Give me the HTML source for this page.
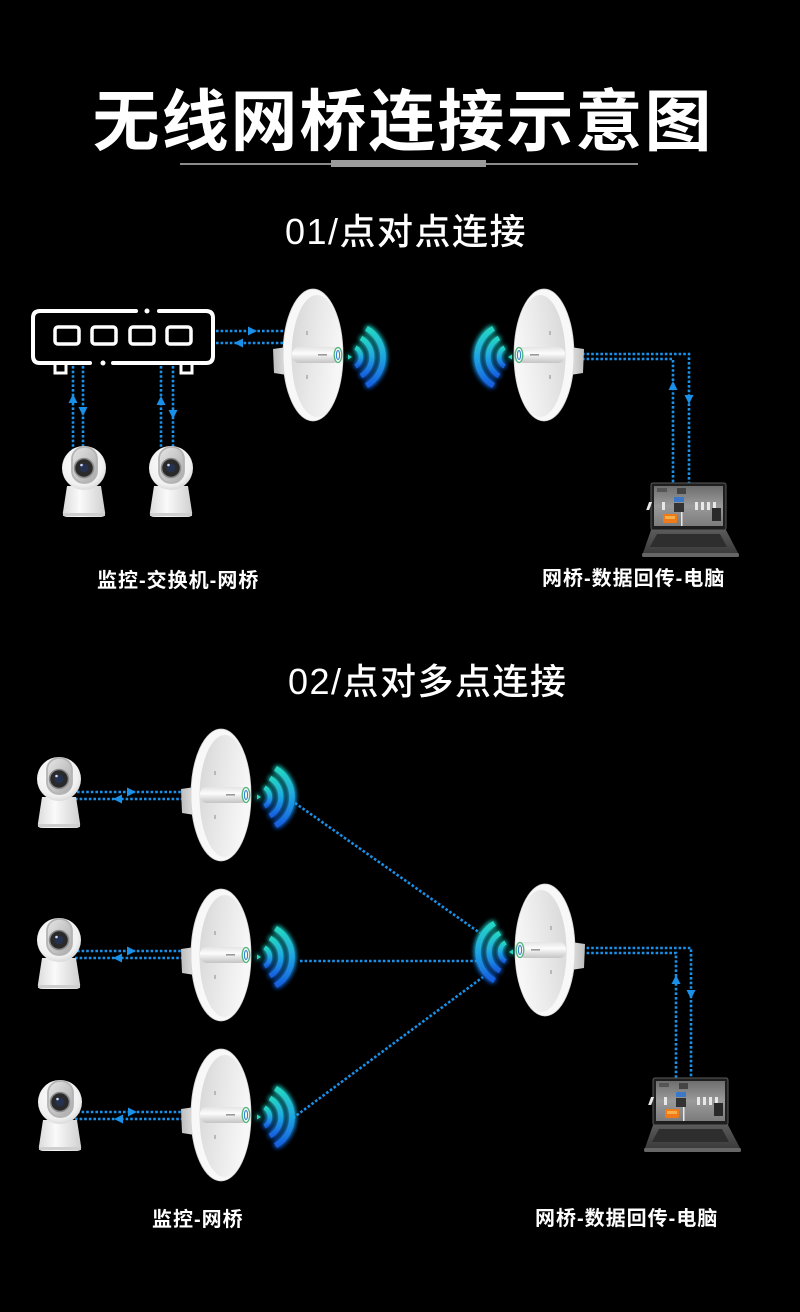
<!DOCTYPE html>
<html><head><meta charset="utf-8"><style>
html,body{margin:0;padding:0;background:#000;}
svg{display:block;}
.t{font-family:"Liberation Sans","Noto Sans CJK SC",sans-serif;fill:#fff;}
</style></head><body>
<svg width="800" height="1312" viewBox="0 0 800 1312" xmlns="http://www.w3.org/2000/svg">
<defs>
  <linearGradient id="wg" x1="0" y1="0" x2="0" y2="1">
    <stop offset="0" stop-color="#25d6c4"/>
    <stop offset="0.5" stop-color="#1fa6e2"/>
    <stop offset="1" stop-color="#175fe0"/>
  </linearGradient>
  <filter id="glow" x="-50%" y="-50%" width="200%" height="200%">
    <feGaussianBlur stdDeviation="2.6" result="b"/>
    <feMerge><feMergeNode in="b"/><feMergeNode in="b"/><feMergeNode in="SourceGraphic"/></feMerge>
  </filter>
  <linearGradient id="brk" x1="0" y1="0" x2="1" y2="0">
    <stop offset="0" stop-color="#bdbdbd"/><stop offset="1" stop-color="#e2e2e2"/>
  </linearGradient>
  <linearGradient id="dish" x1="0" y1="0" x2="1" y2="0.3">
    <stop offset="0" stop-color="#d6d6d6"/><stop offset="0.55" stop-color="#e9e9e9"/><stop offset="1" stop-color="#f7f7f7"/>
  </linearGradient>
  <linearGradient id="cyl" x1="0" y1="0" x2="0" y2="1">
    <stop offset="0" stop-color="#e4e4e4"/><stop offset="0.4" stop-color="#fcfcfc"/><stop offset="1" stop-color="#c4c4c4"/>
  </linearGradient>
  <radialGradient id="head" cx="0.45" cy="0.4" r="0.65">
    <stop offset="0" stop-color="#ffffff"/><stop offset="0.75" stop-color="#f0f0f0"/><stop offset="1" stop-color="#d2d2d2"/>
  </radialGradient>
  <linearGradient id="base" x1="0" y1="0" x2="1" y2="0">
    <stop offset="0" stop-color="#dcdcdc"/><stop offset="0.4" stop-color="#fafafa"/><stop offset="1" stop-color="#d0d0d0"/>
  </linearGradient>
  <linearGradient id="face" x1="0" y1="0" x2="1" y2="1">
    <stop offset="0" stop-color="#e6e6e6"/><stop offset="1" stop-color="#a8a8a8"/>
  </linearGradient>
  <linearGradient id="lapb" x1="0" y1="0" x2="0" y2="1">
    <stop offset="0" stop-color="#5a5a5a"/><stop offset="1" stop-color="#3c3c3c"/>
  </linearGradient>
  <linearGradient id="scr" x1="0" y1="0" x2="0" y2="1">
    <stop offset="0" stop-color="#6e6e6e"/><stop offset="0.5" stop-color="#9a9a9a"/><stop offset="1" stop-color="#7c7c7c"/>
  </linearGradient>

  <g id="bridge">
    <path d="M-41,-6 L-27,-8 L-27,20 L-40,18 Z" fill="url(#brk)"/>
    <ellipse cx="-1" cy="0" rx="30" ry="66" fill="#f8f8f8" stroke="#d4d4d4" stroke-width="0.8"/>
    <ellipse cx="3" cy="1" rx="25.5" ry="61" fill="url(#dish)"/>
    <rect x="-8" y="-24" width="2" height="4" fill="#b8b8b8"/>
    <rect x="-8" y="20" width="2" height="4" fill="#b8b8b8"/>
    <rect x="-22" y="-8" width="48" height="16" rx="7" fill="url(#cyl)"/>
    <rect x="4" y="-1" width="9" height="1.6" fill="#9a9a9a"/>
    <ellipse cx="24" cy="0" rx="3.8" ry="7.5" fill="#f4f4f4" stroke="#4fb37a" stroke-width="1.3"/>
    <ellipse cx="24" cy="0" rx="1.6" ry="4.5" fill="none" stroke="#2a7fd4" stroke-width="1"/>
  </g>

  <g id="waves" filter="url(#glow)">
    <path d="M5.5,-9.5 A11,11 0 0 1 5.5,9.5" fill="none" stroke="url(#wg)" stroke-width="4.5"/>
    <path d="M11,-19 A22,22 0 0 1 11,19" fill="none" stroke="url(#wg)" stroke-width="5"/>
    <path d="M16.5,-28.6 A33,33 0 0 1 16.5,28.6" fill="none" stroke="url(#wg)" stroke-width="5.5"/>
    <path d="M-2,-2.5 L2,0 L-2,2.5 Z" fill="#25d6c4"/>
  </g>

  <g id="cam">
    <path d="M-17,18 L17,18 L21,44 Q22,49 17,49 L-17,49 Q-22,49 -21,44 Z" fill="url(#base)"/>
    <rect x="-21" y="45" width="42" height="3" fill="#cfcfcf"/>
    <circle cx="0" cy="0" r="22" fill="url(#head)"/>
    <rect x="-12" y="-21" width="25" height="36" rx="12" fill="url(#face)" stroke="#b4b4b4" stroke-width="1.8"/>
    <circle cx="0" cy="0" r="9.5" fill="#2a2a2a" stroke="#8a8a8a" stroke-width="1.5"/>
    <circle cx="0" cy="0" r="4.5" fill="#26324d"/>
    <circle cx="-2.5" cy="-3" r="1.3" fill="#cfd8ff"/>
  </g>

  <g id="laptop">
    <path d="M0,47 L75,47 L87,70 L-8,70 Z" fill="url(#lapb)"/>
    <path d="M6,51 L69,51 L76,64 L-1,64 Z" fill="#2e2e2e"/>
    <rect x="-9" y="70" width="97" height="4" rx="1.5" fill="#666"/>
    <rect x="0" y="0" width="75" height="47" rx="2" fill="#1e1e1e" stroke="#5a5a5a" stroke-width="1"/>
    <rect x="3" y="3" width="69" height="40" fill="url(#scr)"/>
    <g fill="#e8e8e8">
      <rect x="5" y="19" width="3" height="8" transform="skewX(-20)"/>
      <rect x="11" y="19" width="3" height="8"/>
      <rect x="44" y="19" width="3" height="8"/>
      <rect x="50" y="19" width="3" height="8"/>
      <rect x="56" y="19" width="3" height="8"/>
      <rect x="62" y="19" width="3" height="8"/>
      <rect x="30" y="28" width="1.5" height="15"/>
    </g>
    <rect x="23" y="14" width="10" height="5" fill="#3c78c8"/>
    <rect x="23" y="20" width="10" height="9" fill="#333"/>
    <rect x="12" y="31" width="14" height="9" rx="1.5" fill="#f07a1a"/>
    <rect x="14" y="33" width="10" height="3" fill="#f5b04a"/>
    <rect x="61" y="25" width="9" height="13" fill="#2a2a2a"/>
    <rect x="26" y="5" width="9" height="6" fill="#444"/>
    <rect x="6" y="5" width="10" height="4" fill="#555"/>
  </g>

  <g id="arR"><path d="M0,0 L-9,-4.5 L-9,4.5 Z" fill="#1a90e8"/></g>
  <g id="arL"><path d="M0,0 L9,-4.5 L9,4.5 Z" fill="#1a90e8"/></g>
  <g id="arU"><path d="M0,0 L-4.5,9 L4.5,9 Z" fill="#1a90e8"/></g>
  <g id="arD"><path d="M0,0 L-4.5,-9 L4.5,-9 Z" fill="#1a90e8"/></g>
</defs>

<rect width="800" height="1312" fill="#000"/>

<!-- Title -->
<text class="t" x="403" y="145" text-anchor="middle" font-size="67" font-weight="700" letter-spacing="2">无线网桥连接示意图</text>
<rect x="180" y="163" width="458" height="2" fill="#8c8c8c"/>
<rect x="331" y="160" width="155" height="7" fill="#9c9c9c"/>

<text class="t" x="285" y="244" font-size="36" font-weight="500" letter-spacing="1.5">01/点对点连接</text>

<!-- Switch -->
<g fill="none" stroke="#fff" stroke-width="4" stroke-linecap="round">
  <path d="M136,311 L40,311 Q33,311 33,318 L33,356 Q33,363 40,363 L90,363"/>
  <path d="M113,363 L206,363 Q213,363 213,356 L213,318 Q213,311 206,311 L159,311"/>
</g>
<circle cx="147" cy="311" r="2.5" fill="#fff"/>
<circle cx="103" cy="363" r="2.5" fill="#fff"/>
<g fill="none" stroke="#fff" stroke-width="3.5">
  <rect x="55" y="327" width="24" height="17" rx="3"/>
  <rect x="92" y="327" width="24" height="17" rx="3"/>
  <rect x="130" y="327" width="24" height="17" rx="3"/>
  <rect x="167" y="327" width="24" height="17" rx="3"/>
</g>
<g fill="none" stroke="#fff" stroke-width="3">
  <path d="M55,365 L55,373 L66,373 L66,365"/>
  <path d="M181,365 L181,373 L192,373 L192,365"/>
</g>

<!-- Section 1 dotted lines -->
<g fill="none" stroke="#1a90e8" stroke-width="2.6" stroke-dasharray="2.6 2">
  <path d="M216,331 L288,331"/>
  <path d="M216,343 L288,343"/>
  <path d="M73,366 L73,452"/>
  <path d="M83,366 L83,450"/>
  <path d="M161,366 L161,452"/>
  <path d="M173,366 L173,450"/>
  <path d="M582,354 L689,354 L689,484"/>
  <path d="M582,359 L673,359 L673,484"/>
</g>
<use href="#arR" x="257" y="331"/>
<use href="#arL" x="234" y="343"/>
<use href="#arU" x="73" y="394"/>
<use href="#arD" x="83" y="416"/>
<use href="#arU" x="161" y="396"/>
<use href="#arD" x="173" y="419"/>
<use href="#arU" x="673" y="381"/>
<use href="#arD" x="689" y="404"/>

<!-- Cameras section 1 -->
<use href="#cam" transform="translate(84,468)"/>
<use href="#cam" transform="translate(171,468)"/>

<!-- Bridges section 1 -->
<use href="#bridge" transform="translate(314,355)"/>
<use href="#waves" transform="translate(350,357)"/>
<use href="#bridge" transform="translate(543,355) scale(-1,1)"/>
<use href="#waves" transform="translate(510,357) scale(-1,1)"/>

<use href="#laptop" transform="translate(651,483)"/>

<text class="t" x="97" y="587" font-size="20" font-weight="700" letter-spacing="1">监控-交换机-网桥</text>
<text class="t" x="542" y="585" font-size="20" font-weight="700" letter-spacing="1">网桥-数据回传-电脑</text>

<!-- Section 2 -->
<text class="t" x="288" y="694" font-size="36" font-weight="500" letter-spacing="1.5">02/点对多点连接</text>

<g fill="none" stroke="#1a90e8" stroke-width="2.6" stroke-dasharray="2.6 2">
  <path d="M77,792 L186,792"/>
  <path d="M75,799 L184,799"/>
  <path d="M77,951 L186,951"/>
  <path d="M75,958 L184,958"/>
  <path d="M77,1112 L186,1112"/>
  <path d="M75,1119 L184,1119"/>
  <path d="M295,803 L480,933"/>
  <path d="M300,961 L478,961"/>
  <path d="M293,1118 L483,977"/>
  <path d="M582,948 L691,948 L691,1078"/>
  <path d="M582,953 L676,953 L676,1078"/>
</g>
<use href="#arR" x="136" y="792"/>
<use href="#arL" x="113" y="799"/>
<use href="#arR" x="136" y="951"/>
<use href="#arL" x="113" y="958"/>
<use href="#arR" x="137" y="1112"/>
<use href="#arL" x="114" y="1119"/>
<use href="#arU" x="676" y="975"/>
<use href="#arD" x="691" y="999"/>

<use href="#cam" transform="translate(59,779)"/>
<use href="#cam" transform="translate(59,940)"/>
<use href="#cam" transform="translate(60,1102)"/>

<use href="#bridge" transform="translate(222,795)"/>
<use href="#waves" transform="translate(259,797)"/>
<use href="#bridge" transform="translate(222,955)"/>
<use href="#waves" transform="translate(259,957)"/>
<use href="#bridge" transform="translate(222,1115)"/>
<use href="#waves" transform="translate(259,1117)"/>

<use href="#bridge" transform="translate(544,950) scale(-1,1)"/>
<use href="#waves" transform="translate(511,952) scale(-1,1)"/>

<use href="#laptop" transform="translate(653,1078)"/>

<text class="t" x="152" y="1226" font-size="20" font-weight="700" letter-spacing="1">监控-网桥</text>
<text class="t" x="535" y="1225" font-size="20" font-weight="700" letter-spacing="1">网桥-数据回传-电脑</text>
</svg>
</body></html>
